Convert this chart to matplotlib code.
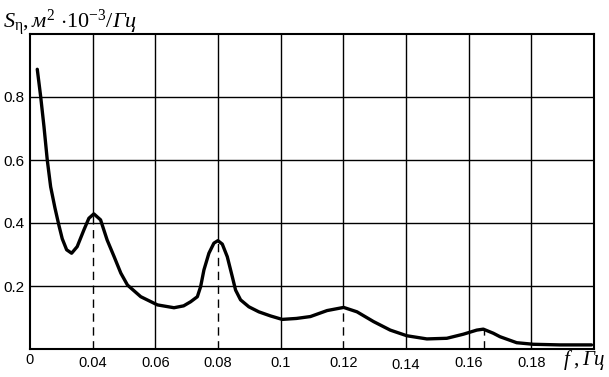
import matplotlib
matplotlib.use("Agg")
import matplotlib.pyplot as plt

# frequency (Hz) and spectral density values
freq = [0.02232, 0.02341, 0.02446, 0.02551, 0.02659, 0.02796, 0.02924, 0.03029, 0.03169,
        0.03328, 0.03506, 0.03720, 0.03879, 0.04038, 0.04252, 0.04462, 0.04685, 0.04898,
        0.05111, 0.05535, 0.06067, 0.06596, 0.06904, 0.07127, 0.07341, 0.07446, 0.07551,
        0.07710, 0.07869, 0.07997, 0.08137, 0.08296, 0.08455, 0.08561, 0.08720, 0.08984,
        0.09303, 0.09675, 0.10048, 0.10503, 0.10949, 0.11481, 0.12010, 0.12436, 0.12965,
        0.13497, 0.14029, 0.14666, 0.15303, 0.15831, 0.16258, 0.16468, 0.16787, 0.17000,
        0.17532, 0.18061, 0.18911, 0.19920]
density = [0.888, 0.801, 0.706, 0.600, 0.515, 0.448, 0.392, 0.350, 0.315,
           0.304, 0.325, 0.378, 0.415, 0.429, 0.410, 0.346, 0.293, 0.241,
           0.203, 0.166, 0.140, 0.131, 0.137, 0.150, 0.166, 0.198, 0.251,
           0.304, 0.336, 0.344, 0.333, 0.293, 0.230, 0.187, 0.156, 0.134,
           0.118, 0.105, 0.094, 0.097, 0.103, 0.122, 0.132, 0.118, 0.087,
           0.060, 0.042, 0.032, 0.034, 0.047, 0.060, 0.063, 0.050, 0.039,
           0.020, 0.015, 0.013, 0.013]

# peaks marked with dashed lines
peak_freq = [0.04, 0.08, 0.12, 0.165]
peak_val = [0.429, 0.344, 0.132, 0.063]

x_ticks = [0.02, 0.04, 0.06, 0.08, 0.10, 0.12, 0.14, 0.16, 0.18]
x_labels = ["0", "0.04", "0.06", "0.08", "0.1", "0.12", "0.14", "0.16", "0.18"]
y_ticks = [0.2, 0.4, 0.6, 0.8]
y_labels = ["0.2", "0.4", "0.6", "0.8"]

plt.rcParams['font.family'] = ['Liberation Sans', 'DejaVu Sans']
plt.rcParams['mathtext.fontset'] = 'custom'
plt.rcParams['mathtext.rm'] = 'Liberation Serif'
plt.rcParams['mathtext.it'] = 'Liberation Serif:italic'

W, H = 609, 377
fig = plt.figure(figsize=(W / 100, H / 100), dpi=100)
ax = fig.add_axes([30 / W, (H - 349) / H, (594 - 30) / W, (349 - 34) / H])
ax.set_xlim(0.02, 0.20)
ax.set_ylim(0, 1.0)

# horizontal grid
for y in y_ticks:
    ax.axhline(y, color='black', lw=1.0, zorder=1)
# vertical grid: solid above marked peaks, dashed below them
for x in x_ticks[1:]:
    hit = [abs(x - p) < 1e-9 for p in peak_freq]
    if any(hit):
        v = peak_val[hit.index(True)]
        ax.vlines(x, v, 1.0, color='black', lw=1.0, zorder=1)
    else:
        ax.axvline(x, color='black', lw=1.0, zorder=1)
for p, v in zip(peak_freq, peak_val):
    ax.vlines(p, 0, v, color='black', lw=1.0, linestyles=(0, (6, 4)), zorder=1)

ax.plot(freq, density, color='black', lw=2.4, solid_capstyle='round',
        solid_joinstyle='round', zorder=3)

ax.set_xticks(x_ticks)
ax.set_xticklabels(x_labels, fontsize=10.5)
ax.set_yticks(y_ticks)
ax.set_yticklabels(y_labels, fontsize=11)
ax.tick_params(axis='x', length=0, pad=5)
ax.tick_params(axis='y', length=0, pad=4)
ax.get_xticklabels()[6].set_y(-0.008)
ax.get_xticklabels()[0].set_y(0.008)
for s in ax.spines.values():
    s.set_linewidth(1.5)

fig.text(3 / W, (H - 28) / H, r'$S_{\mathrm{\eta}},м^{2}\ \mathrm{\cdot 10^{-3}}/Гц$',
         fontsize=16, ha='left', va='baseline')
fig.text(563 / W, (H - 365) / H, r'$f\ ,Гц$', fontsize=15, ha='left', va='baseline')

fig.savefig("out.png", dpi=100)
